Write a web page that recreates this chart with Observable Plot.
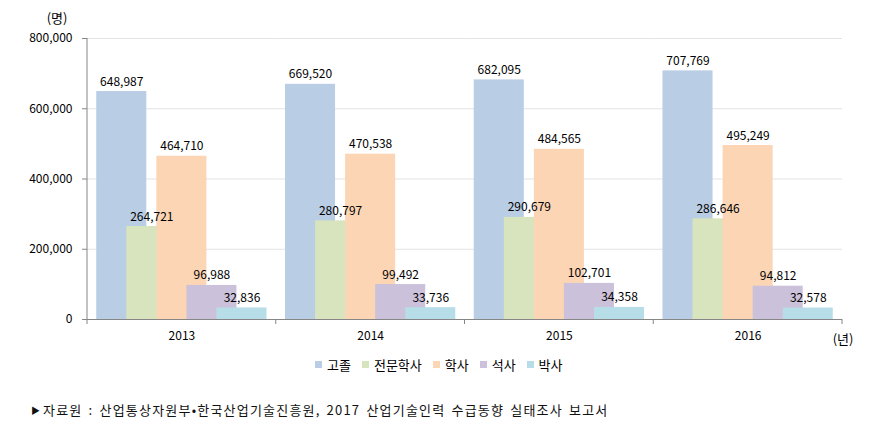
<!DOCTYPE html>
<html><head><meta charset="utf-8">
<script src="https://cdn.jsdelivr.net/npm/d3@7"></script>
<script src="https://cdn.jsdelivr.net/npm/@observablehq/plot@0.6"></script>
<style>
html,body{margin:0;padding:0;background:#fff;}
#wrap{position:relative;width:894px;height:440px;font-family:"Noto Sans CJK KR","Noto Sans",sans-serif;color:#000;}
#chart{position:absolute;left:0;top:0;}
.unit{position:absolute;font-size:13px;line-height:1;transform:translate(-50%,-50%);white-space:nowrap;}
#legend{position:absolute;left:315px;top:348px;}
.lg-swatch{margin-right:11px !important;}
.lg-swatch>svg{margin-right:5px !important;}
#note{position:absolute;left:31px;top:401px;font-size:13px;line-height:18px;white-space:nowrap;color:#111;letter-spacing:1.2px;word-spacing:2px;}
#note .tri{font-size:9px;display:inline-block;width:12px;vertical-align:1px;letter-spacing:0;}
</style></head>
<body><div id="wrap"><div id="chart"></div><div id="legend"></div>
<div class="unit" style="left:57px;top:17px;">(명)</div>
<div class="unit" style="left:843px;top:338px;">(년)</div>
<div id="note"><span class="tri">▶</span>자료원 : 산업통상자원부•한국산업기술진흥원, 2017 산업기술인력 수급동향 실태조사 보고서</div>
</div>
<script>
const years = ["2013", "2014", "2015", "2016"];
const series = ["고졸", "전문학사", "학사", "석사", "박사"];
const colors = ["#B9CDE5", "#D7E4BD", "#FCD5B5", "#CCC1DA", "#B7DEE8"];
const highSchool = [648987, 669520, 682095, 707769];
const associate = [264721, 280797, 290679, 286646];
const bachelor = [464710, 470538, 484565, 495249];
const master = [96988, 99492, 102701, 94812];
const doctor = [32836, 33736, 34358, 32578];
const yTicks = [0, 200000, 400000, 600000, 800000];

const seriesValues = [highSchool, associate, bachelor, master, doctor];
const data = [];
years.forEach((yr, i) => series.forEach((s, j) => data.push({year: yr, series: s, value: seriesValues[j][i]})));

const fmt = d3.format(",");
const font = '"Noto Sans CJK KR","Noto Sans",sans-serif';

const plot = Plot.plot({
  width: 894, height: 350,
  marginLeft: 87, marginRight: 52, marginTop: 38, marginBottom: 31,
  style: {fontFamily: font, fontSize: "12px", color: "#000", background: "transparent", overflow: "visible"},
  fx: {domain: years, padding: 0, round: false, label: null},
  x: {domain: series, paddingInner: 0, paddingOuter: 0.64, round: false, axis: null},
  y: {domain: [0, 800000], axis: null},
  color: {domain: series, range: colors},
  marks: [
    Plot.gridY(yTicks, {stroke: "#e3e3e3", strokeOpacity: 1}),
    Plot.barY(data, {fx: "year", x: "series", y: "value", fill: "series", insetLeft: -10, insetRight: -10}),
    Plot.text(data, {fx: "year", x: "series", y: "value", text: d => fmt(d.value), lineAnchor: "bottom", dy: -6, fill: "#000", fontSize: 12}),
    Plot.ruleY([0], {stroke: "#868686"}),
    Plot.axisY({ticks: yTicks, tickFormat: fmt, tickSize: 5, tickPadding: 10, stroke: "#868686", label: null, fontSize: 12}),
    Plot.axisFx({anchor: "bottom", tickSize: 0, tickPadding: 12, label: null, fontSize: 12})
  ]
});

// axis line and category boundary ticks from the plot's scales
const fxS = plot.scale("fx"), yS = plot.scale("y");
const svg = d3.select(plot);
const y0 = yS.apply(0), yTop = yS.apply(800000);
const x0 = fxS.apply(years[0]);
svg.append("line").attr("x1", x0).attr("x2", x0).attr("y1", yTop).attr("y2", y0).attr("stroke", "#868686");
const bounds = years.map(y => fxS.apply(y)).concat([fxS.apply(years[years.length - 1]) + fxS.bandwidth]);
bounds.forEach(b => svg.append("line").attr("x1", b).attr("x2", b).attr("y1", y0).attr("y2", y0 + 5).attr("stroke", "#868686"));

document.getElementById("chart").appendChild(plot);

const legend = Plot.legend({
  color: {domain: series, range: colors},
  legend: "swatches", swatchSize: 7, className: "lg",
  style: {fontFamily: font, fontSize: "13px", color: "#000"}
});
document.getElementById("legend").appendChild(legend);
</script>
</body></html>
